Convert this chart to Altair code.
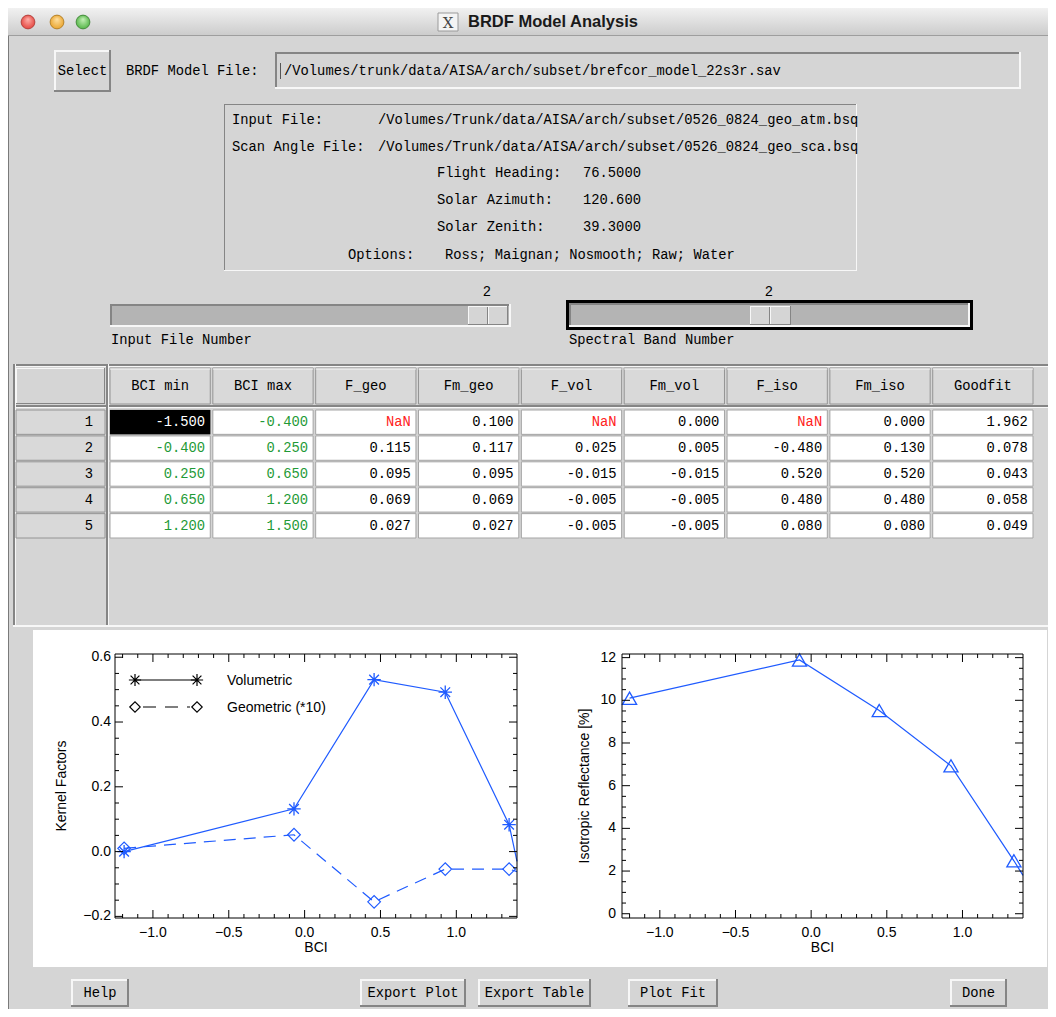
import altair as alt
import pandas as pd

# ---------------- table data ----------------
table_cols = ["BCI min", "BCI max", "F_geo", "Fm_geo", "F_vol", "Fm_vol", "F_iso", "Fm_iso", "Goodfit"]
row_ids = [1, 2, 3, 4, 5]
bci_min = [-1.500, -0.400, 0.250, 0.650, 1.200]
bci_max = [-0.400, 0.250, 0.650, 1.200, 1.500]
f_geo = [None, 0.115, 0.095, 0.069, 0.027]
fm_geo = [0.100, 0.117, 0.095, 0.069, 0.027]
f_vol = [None, 0.025, -0.015, -0.005, -0.005]
fm_vol = [0.000, 0.005, -0.015, -0.005, -0.005]
f_iso = [None, -0.480, 0.520, 0.480, 0.080]
fm_iso = [0.000, 0.130, 0.520, 0.480, 0.080]
goodfit = [1.962, 0.078, 0.043, 0.058, 0.049]

# ---------------- plot series ----------------
vol_bci = [-1.19, -0.07, 0.458, 0.927, 1.348]
vol_val = [0.0, 0.132, 0.531, 0.492, 0.083]
geo_bci = [-1.19, -0.07, 0.458, 0.927, 1.348]
geo_val = [0.01, 0.052, -0.155, -0.054, -0.054]
iso_bci = [-1.20, -0.077, 0.45, 0.924, 1.34]
iso_val = [10.1, 11.89, 9.52, 6.93, 2.48]
# continuation of the curves up to the right border of the plots
edge_bci = 1.40
vol_edge = -0.03
geo_edge = -0.062
iso_edge = 1.8

x_major = [-1.0, -0.5, 0.0, 0.5, 1.0]
x_minor = [-1.2, -1.1, -0.9, -0.8, -0.7, -0.6, -0.4, -0.3, -0.2, -0.1,
           0.1, 0.2, 0.3, 0.4, 0.6, 0.7, 0.8, 0.9, 1.1, 1.2, 1.3]
kf_major = [-0.2, 0.0, 0.2, 0.4, 0.6]
kf_minor = [-0.15, -0.1, -0.05, 0.05, 0.1, 0.15, 0.25, 0.3, 0.35, 0.45, 0.5, 0.55]
iso_major = [0, 2, 4, 6, 8, 10, 12]
iso_minor = [0.5, 1, 1.5, 2.5, 3, 3.5, 4.5, 5, 5.5, 6.5, 7, 7.5, 8.5, 9, 9.5, 10.5, 11, 11.5]

# ---------------- style ----------------
GRAY = "#d5d5d5"
DARK = "#858585"
LIGHT = "#f7f7f7"
TROUGH = "#b4b4b4"
BLUE = "#1f5bff"
GREEN = "#1f9a37"
RED = "#ff2222"
MONO = "Liberation Mono"
SANS = "Liberation Sans"
FS = 13.8
ASTER = "M-1,0L1,0M0,-1L0,1M-0.72,-0.72L0.72,0.72M-0.72,0.72L0.72,-0.72"

one = pd.DataFrame({"k": [0]})


def R(x1, y1, x2, y2, fill, ox, oy, **kw):
    return alt.Chart(one).mark_rect(fill=fill, **kw).encode(
        x=alt.value(x1 - ox), x2=alt.value(x2 - ox),
        y=alt.value(y1 - oy), y2=alt.value(y2 - oy))


def T(x, y, s, ox, oy, align="left", font=MONO, size=FS, color="black", weight="normal", angle=0):
    return alt.Chart(one).mark_text(
        text=s, align=align, baseline="middle", font=font, fontSize=size,
        color=color, fontWeight=weight, angle=angle).encode(x=alt.value(x - ox), y=alt.value(y - oy))


def raised(x1, y1, x2, y2, ox, oy, b=1, fill=GRAY):
    return [R(x1, y1, x2, y2, DARK, ox, oy), R(x1, y1, x2 - b, y2 - b, LIGHT, ox, oy),
            R(x1 + b, y1 + b, x2 - b, y2 - b, fill, ox, oy)]


def sunken(x1, y1, x2, y2, ox, oy, b=1, fill=GRAY):
    return [R(x1, y1, x2, y2, LIGHT, ox, oy), R(x1, y1, x2 - b, y2 - b, DARK, ox, oy),
            R(x1 + b, y1 + b, x2 - b, y2 - b, fill, ox, oy)]


# ================= Panel A : header + table =================
ox, oy = 8, 8
A = [R(8, 8, 1048, 630, GRAY, ox, oy)]
grad = alt.LinearGradient(gradient="linear",
                          stops=[alt.GradientStop(color="#f1f1f1", offset=0),
                                 alt.GradientStop(color="#cbcbcb", offset=1)],
                          x1=0, x2=0, y1=0, y2=1)
A.append(R(8, 8, 1048, 36, grad, ox, oy))
A.append(R(8, 35, 1048, 36, "#9e9e9e", ox, oy))
for cx, c0, c1, sc in [(28, "#ffb0aa", "#e2423c", "#a8342f"),
                       (57, "#ffe0a0", "#e8a22a", "#a87418"),
                       (83, "#c6f0b8", "#4fb342", "#357c2c")]:
    rg = alt.RadialGradient(gradient="radial",
                            stops=[alt.GradientStop(color=c0, offset=0),
                                   alt.GradientStop(color=c1, offset=1)],
                            x1=0.5, y1=0.3, r1=0, x2=0.5, y2=0.5, r2=0.55)
    A.append(alt.Chart(one).mark_point(shape="circle", filled=True, size=190, fill=rg,
                                       stroke=sc, strokeWidth=0.8, opacity=1)
             .encode(x=alt.value(cx - ox), y=alt.value(22 - oy)))
A.append(R(438, 13, 458, 31, "#f4f4f4", ox, oy, stroke="#9a9a9a", strokeWidth=1))
A.append(T(448, 22.5, "X", ox, oy, align="center", font="DejaVu Serif", size=15, color="#444"))
A.append(T(468, 22, "BRDF Model Analysis", ox, oy, font=SANS, size=16.5, weight="bold", color="#1a1a1a"))
A.append(R(8, 36, 9, 630, "#7a7a7a", ox, oy))

# Select row
A += raised(54, 50, 111, 92, ox, oy, b=2)
A.append(T(82.5, 71, "Select", ox, oy, align="center"))
A.append(T(126, 71, "BRDF Model File:", ox, oy))
A += sunken(275, 52, 1021, 89, ox, oy, b=2)
A.append(R(280, 63, 281, 79, "#555555", ox, oy))
A.append(T(284, 71, "/Volumes/trunk/data/AISA/arch/subset/brefcor_model_22s3r.sav", ox, oy))

# info box
A += sunken(224, 104, 857, 271, ox, oy, b=1)
A.append(T(232, 120, "Input File:", ox, oy))
A.append(T(378, 120, "/Volumes/Trunk/data/AISA/arch/subset/0526_0824_geo_atm.bsq", ox, oy))
A.append(T(232, 147, "Scan Angle File:", ox, oy))
A.append(T(378, 147, "/Volumes/Trunk/data/AISA/arch/subset/0526_0824_geo_sca.bsq", ox, oy))
A.append(T(437, 173, "Flight Heading:", ox, oy))
A.append(T(583, 173, "76.5000", ox, oy))
A.append(T(437, 200, "Solar Azimuth:", ox, oy))
A.append(T(583, 200, "120.600", ox, oy))
A.append(T(437, 227, "Solar Zenith:", ox, oy))
A.append(T(583, 227, "39.3000", ox, oy))
A.append(T(348, 255, "Options:", ox, oy))
A.append(T(445, 255, "Ross; Maignan; Nosmooth; Raw; Water", ox, oy))

# sliders
A.append(T(487, 292, "2", ox, oy, align="center"))
A.append(T(769, 292, "2", ox, oy, align="center"))
A += sunken(110, 304, 511, 327, ox, oy, b=2, fill=TROUGH)
A += raised(468, 306, 508, 325, ox, oy, b=1)
A.append(R(487, 307, 488, 324, DARK, ox, oy))
A.append(R(488, 307, 489, 324, LIGHT, ox, oy))
A.append(R(566, 300, 973, 330, "black", ox, oy))
A += sunken(569, 303, 970, 327, ox, oy, b=2, fill=TROUGH)
A += raised(750, 306, 791, 325, ox, oy, b=1)
A.append(R(769, 307, 770, 324, DARK, ox, oy))
A.append(R(770, 307, 771, 324, LIGHT, ox, oy))
A.append(T(111, 340, "Input File Number", ox, oy))
A.append(T(569, 340, "Spectral Band Number", ox, oy))

# table frame
A.append(R(13, 364, 1048, 366, DARK, ox, oy))
A.append(R(13, 366, 1048, 367, LIGHT, ox, oy))
A.append(R(13, 405, 1048, 407, DARK, ox, oy))
A.append(R(13, 407, 1048, 408, LIGHT, ox, oy))
A.append(R(13, 364, 15, 627, DARK, ox, oy))
A.append(R(15, 364, 16, 627, LIGHT, ox, oy))
A.append(R(106, 364, 108, 627, DARK, ox, oy))
A.append(R(108, 364, 109, 627, LIGHT, ox, oy))
A.append(R(13, 625, 1048, 627, LIGHT, ox, oy))
A += raised(16, 368, 105, 404, ox, oy, b=1)

# table cells (data driven)
series = [bci_min, bci_max, f_geo, fm_geo, f_vol, fm_vol, f_iso, fm_iso, goodfit]
recs = []
for ci, (c, vals) in enumerate(zip(table_cols, series)):
    for r, v in zip(row_ids, vals):
        sel = (ci == 0 and r == 1)
        if sel:
            tc = "white"
        elif v is None:
            tc = RED
        elif ci < 2:
            tc = GREEN
        else:
            tc = "black"
        recs.append(dict(col=c, row=r, txt=("NaN" if v is None else f"{v:.3f}"), tc=tc, sel=sel))
cells = pd.DataFrame(recs)
hdr = pd.DataFrame({"col": table_cols})
rws = pd.DataFrame({"row": row_ids})

xcol = alt.Scale(domain=table_cols, range=[102, 1025], paddingInner=0.025, paddingOuter=0)
yrow = alt.Scale(domain=row_ids, range=[402, 530], paddingInner=0.06, paddingOuter=0)
XC = alt.X("col:N", scale=xcol, axis=None)
YR = alt.Y("row:O", scale=yrow, axis=None)

A.append(alt.Chart(hdr).mark_rect(fill="#d9d9d9", stroke="#949494", strokeWidth=1)
         .encode(x=XC, y=alt.value(360), y2=alt.value(396)))
A.append(alt.Chart(hdr).mark_rect(fill=LIGHT).encode(x=XC, y=alt.value(360.5), y2=alt.value(361.5)))
A.append(alt.Chart(hdr).mark_text(font=MONO, fontSize=FS, baseline="middle", color="black")
         .encode(x=XC, y=alt.value(378), text="col:N"))
A.append(alt.Chart(rws).mark_rect(fill="#d9d9d9", stroke="#949494", strokeWidth=1)
         .encode(x=alt.value(8), x2=alt.value(97), y=YR))
A.append(alt.Chart(rws).mark_text(font=MONO, fontSize=FS, baseline="middle", align="right", color="black")
         .encode(x=alt.value(85), y=YR, text="row:O"))
A.append(alt.Chart(cells).mark_rect(fill="white", stroke="#a5a5a5", strokeWidth=1).encode(x=XC, y=YR))
A.append(alt.Chart(cells[cells.sel]).mark_rect(fill="black").encode(x=XC, y=YR))
A.append(alt.Chart(cells).mark_text(font=MONO, fontSize=FS, baseline="middle", align="right", dx=45)
         .encode(x=XC, y=YR, text="txt:N", color=alt.Color("tc:N", scale=None)))

panelA = alt.layer(*A).properties(width=1040, height=622)

# ================= Panel B : plots =================
CELL_W, CELL_H = 520, 337
PY0, PY1 = 24, 288          # plot box top / bottom inside a cell


def frame_layers(xs, ys, X0, X1, xmaj, xmin, ymaj, ymin, yfmt, ylp, xtitle, ytitle, ytitle_x):
    out = []
    # inward IDL-style ticks on all four sides
    for vals, Lt in [(xmaj, 8), (xmin, 4)]:
        d = pd.DataFrame({"x": vals})
        out.append(alt.Chart(d).mark_rule(color="black", strokeWidth=1).encode(
            x=alt.X("x:Q", scale=xs, axis=None), y=alt.value(PY1), y2=alt.value(PY1 - Lt)))
        out.append(alt.Chart(d).mark_rule(color="black", strokeWidth=1).encode(
            x=alt.X("x:Q", scale=xs, axis=None), y=alt.value(PY0), y2=alt.value(PY0 + Lt)))
    for vals, Lt in [(ymaj, 8), (ymin, 4)]:
        d = pd.DataFrame({"y": vals})
        out.append(alt.Chart(d).mark_rule(color="black", strokeWidth=1).encode(
            y=alt.Y("y:Q", scale=ys, axis=None), x=alt.value(X0), x2=alt.value(X0 + Lt)))
        out.append(alt.Chart(d).mark_rule(color="black", strokeWidth=1).encode(
            y=alt.Y("y:Q", scale=ys, axis=None), x=alt.value(X1), x2=alt.value(X1 - Lt)))
    out.append(alt.Chart(one).mark_rect(fillOpacity=0, stroke="black", strokeWidth=1).encode(
        x=alt.value(X0), x2=alt.value(X1), y=alt.value(PY0), y2=alt.value(PY1)))
    # tick labels, placed through the scales
    out.append(alt.Chart(pd.DataFrame({"x": xmaj})).mark_text(
        font=SANS, fontSize=14, color="black", baseline="middle", align="center").encode(
        x=alt.X("x:Q", scale=xs, axis=None), y=alt.value(PY1 + 15),
        text=alt.Text("x:Q", format=".1f")))
    out.append(alt.Chart(pd.DataFrame({"y": ymaj})).mark_text(
        font=SANS, fontSize=14, color="black", baseline="middle", align="right").encode(
        y=alt.Y("y:Q", scale=ys, axis=None), x=alt.value(X0 - ylp),
        text=alt.Text("y:Q", format=yfmt)))
    # axis titles
    out.append(alt.Chart(one).mark_text(text=xtitle, font=SANS, fontSize=14, color="black",
                                        baseline="middle", align="center").encode(
        x=alt.value((X0 + X1) / 2), y=alt.value(PY1 + 30)))
    out.append(alt.Chart(one).mark_text(text=ytitle, font=SANS, fontSize=14, color="black",
                                        baseline="middle", align="center", angle=270).encode(
        x=alt.value(ytitle_x), y=alt.value((PY0 + PY1) / 2)))
    return out


# ---- left plot (cell origin = ref (8,630)) ----
oxL, oyL = 8, 630
XL0, XL1 = 115 - oxL, 517 - oxL
xsL = alt.Scale(domain=[-1.25, 1.40], nice=False, zero=False, range=[XL0, XL1])
ysL = alt.Scale(domain=[-0.205, 0.61], nice=False, zero=False, range=[PY1, PY0])
L = [R(8, 630, 528, 967, GRAY, oxL, oyL), R(8, 630, 9, 967, "#7a7a7a", oxL, oyL),
     R(33, 630, 528, 967, "white", oxL, oyL)]
vol_line = pd.DataFrame({"x": vol_bci + [edge_bci], "y": vol_val + [vol_edge]})
geo_line = pd.DataFrame({"x": geo_bci + [edge_bci], "y": geo_val + [geo_edge]})
vol_pts = pd.DataFrame({"x": vol_bci, "y": vol_val})
geo_pts = pd.DataFrame({"x": geo_bci, "y": geo_val})
L.append(alt.Chart(vol_line).mark_line(color=BLUE, strokeWidth=1.2).encode(
    x=alt.X("x:Q", scale=xsL, axis=None), y=alt.Y("y:Q", scale=ysL, axis=None)))
L.append(alt.Chart(geo_line).mark_line(color=BLUE, strokeWidth=1.2, strokeDash=[12, 8]).encode(
    x=alt.X("x:Q", scale=xsL, axis=None), y=alt.Y("y:Q", scale=ysL, axis=None)))
L.append(alt.Chart(geo_pts).mark_point(shape="diamond", size=160, stroke=BLUE, strokeWidth=1.2,
                                       filled=False, opacity=1).encode(
    x=alt.X("x:Q", scale=xsL, axis=None), y=alt.Y("y:Q", scale=ysL, axis=None)))
L.append(alt.Chart(vol_pts).mark_point(shape=ASTER, size=180, stroke=BLUE, strokeWidth=1.3,
                                       filled=False, opacity=1).encode(
    x=alt.X("x:Q", scale=xsL, axis=None), y=alt.Y("y:Q", scale=ysL, axis=None)))
L += frame_layers(xsL, ysL, XL0, XL1, x_major, x_minor, kf_major, kf_minor, ".1f", 4,
                  "BCI", "Kernel Factors", 62 - oxL)
# legend
L.append(alt.Chart(one).mark_rule(color="black", strokeWidth=1.2).encode(
    x=alt.value(135 - oxL), x2=alt.value(197 - oxL), y=alt.value(680 - oyL)))
L.append(alt.Chart(one).mark_rule(color="black", strokeWidth=1.2, strokeDash=[13, 9]).encode(
    x=alt.value(143 - oxL), x2=alt.value(190 - oxL), y=alt.value(707 - oyL)))
for lx in (135, 197):
    L.append(alt.Chart(one).mark_point(shape=ASTER, size=150, stroke="black", strokeWidth=1.2,
                                       filled=False, opacity=1).encode(
        x=alt.value(lx - oxL), y=alt.value(680 - oyL)))
    L.append(alt.Chart(one).mark_point(shape="diamond", size=110, stroke="black", strokeWidth=1.1,
                                       filled=False, opacity=1).encode(
        x=alt.value(lx - oxL), y=alt.value(707 - oyL)))
L.append(T(227, 681, "Volumetric", oxL, oyL, font=SANS, size=14))
L.append(T(227, 708, "Geometric (*10)", oxL, oyL, font=SANS, size=14))
left = alt.layer(*L).properties(width=CELL_W, height=CELL_H)

# ---- right plot (cell origin = ref (528,630)) ----
oxR, oyR = 528, 630
XR0, XR1 = 622 - oxR, 1023 - oxR
xsR = alt.Scale(domain=[-1.25, 1.40], nice=False, zero=False, range=[XR0, XR1])
ysR = alt.Scale(domain=[-0.2, 12.17], nice=False, zero=False, range=[PY1, PY0])
Rl = [R(528, 630, 1047, 967, "white", oxR, oyR), R(1047, 630, 1048, 967, GRAY, oxR, oyR)]
iso_line = pd.DataFrame({"x": iso_bci + [edge_bci], "y": iso_val + [iso_edge]})
iso_pts = pd.DataFrame({"x": iso_bci, "y": iso_val})
Rl.append(alt.Chart(iso_line).mark_line(color=BLUE, strokeWidth=1.2).encode(
    x=alt.X("x:Q", scale=xsR, axis=None), y=alt.Y("y:Q", scale=ysR, axis=None)))
Rl.append(alt.Chart(iso_pts).mark_point(shape="triangle-up", size=200, stroke=BLUE, strokeWidth=1.3,
                                        filled=False, opacity=1).encode(
    x=alt.X("x:Q", scale=xsR, axis=None), y=alt.Y("y:Q", scale=ysR, axis=None)))
Rl += frame_layers(xsR, ysR, XR0, XR1, x_major, x_minor, iso_major, iso_minor, "d", 6,
                   "BCI", "Isotropic Reflectance [%]", 585 - oxR)
right = alt.layer(*Rl).properties(width=CELL_W, height=CELL_H)

panelB = alt.hconcat(left, right, spacing=0)

# ================= Panel C : buttons =================
ox, oy = 8, 967
C = [R(8, 967, 1048, 1009, GRAY, ox, oy), R(8, 967, 9, 1009, "#7a7a7a", ox, oy)]
for x1, x2, s in [(71, 129, "Help"), (360, 466, "Export Plot"), (478, 591, "Export Table"),
                  (628, 718, "Plot Fit"), (950, 1007, "Done")]:
    C += raised(x1, 979, x2, 1007, ox, oy, b=2)
    C.append(T((x1 + x2) / 2, 993, s, ox, oy, align="center"))
panelC = alt.layer(*C).properties(width=1040, height=42)

chart = (alt.vconcat(panelA, panelB, panelC, spacing=0)
         .properties(padding=0, background=GRAY)
         .configure_view(strokeWidth=0))

chart.save("out.html", embed_options={"renderer": "svg", "actions": False})
